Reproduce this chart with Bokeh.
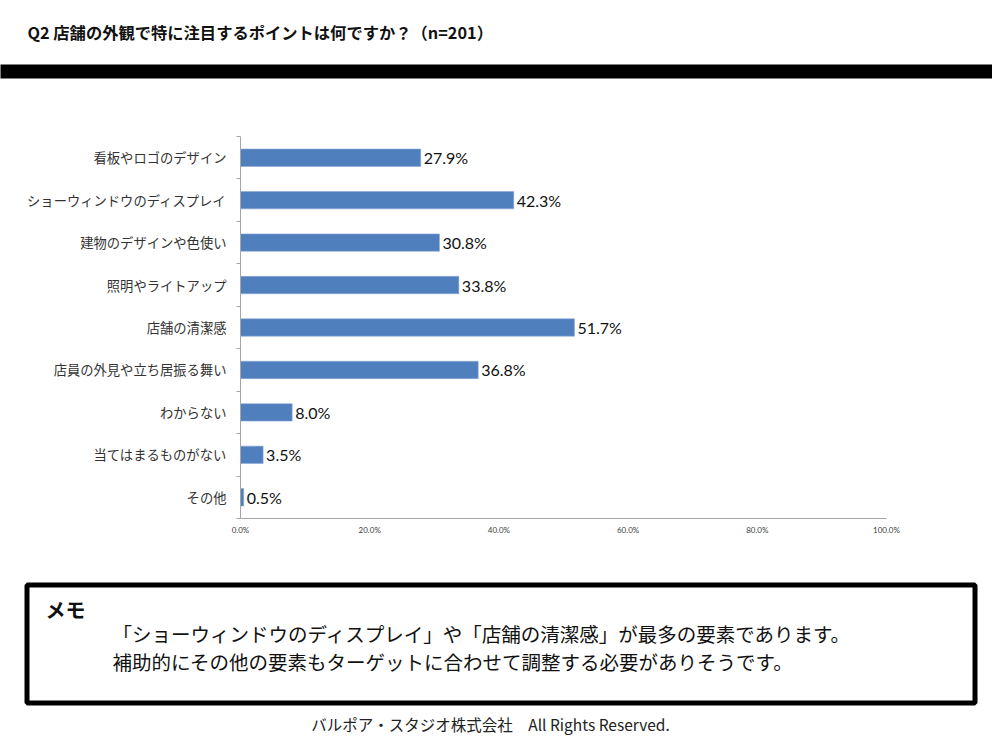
from bokeh.plotting import figure
from bokeh.models import Range1d, FixedTicker, ColumnDataSource
from bokeh.core.properties import value
from bokeh.embed import file_html
from bokeh.resources import INLINE

# ---------------- data ----------------
title_text = "Q2 店舗の外観で特に注目するポイントは何ですか？（n=201）"
categories = [
    "看板やロゴのデザイン",
    "ショーウィンドウのディスプレイ",
    "建物のデザインや色使い",
    "照明やライトアップ",
    "店舗の清潔感",
    "店員の外見や立ち居振る舞い",
    "わからない",
    "当てはまるものがない",
    "その他",
]
values = [27.9, 42.3, 30.8, 33.8, 51.7, 36.8, 8.0, 3.5, 0.5]
x_ticks = [0, 20, 40, 60, 80, 100]
x_tick_labels = ["0.0%", "20.0%", "40.0%", "60.0%", "80.0%", "100.0%"]
memo_title = "メモ"
memo_lines = [
    "「ショーウィンドウのディスプレイ」や「店舗の清潔感」が最多の要素であります。",
    "補助的にその他の要素もターゲットに合わせて調整する必要がありそうです。",
]
footer_text = "バルポア・スタジオ株式会社　All Rights Reserved."

JP = value("Noto Sans CJK JP")
W, H = 992, 736
n = len(categories)
X0, X1 = 0, 100            # value axis extent
Y0, Y1 = 0.5, n + 0.5      # category axis extent
# chart area in page pixels
FL, FR, FT, FB = 240, 886, 136, 518
kx = (X1 - X0) / (FR - FL)
ky = (Y1 - Y0) / (FB - FT)

def dx(px):   # page x pixel -> data x
    return X0 + (px - FL) * kx

def dy(py):   # page y pixel -> data y
    return Y0 + (FB - py) * ky

ypos = [n - i for i in range(n)]
src = ColumnDataSource(dict(y=ypos, v=values, cat=categories,
                            lab=[f"{v:.1f}%" for v in values]))

p = figure(width=W, height=H,
           x_range=Range1d(dx(0), dx(W)), y_range=Range1d(dy(H), dy(0)),
           output_backend="svg", toolbar_location=None)
p.min_border = 0
p.outline_line_color = None
p.grid.visible = False
p.background_fill_color = "white"
p.border_fill_color = "white"

p.hbar(y="y", right="v", left=0, height=0.41, source=src,
       fill_color="#4F7FBC", line_color="#8FAAD6", line_width=0.6)
p.text(x="v", y="y", text="lab", source=src, x_offset=3,
       text_font=value("Lato"), text_font_size="16px", text_baseline="middle",
       text_align="left", text_color="#111111")

xa = p.xaxis[0]
xa.fixed_location = Y0
xa.bounds = (X0, X1)
xa.ticker = FixedTicker(ticks=x_ticks)
xa.major_label_overrides = {t: l for t, l in zip(x_ticks, x_tick_labels)}
xa.major_tick_out = 0
xa.major_tick_in = 0
xa.minor_tick_out = 0
xa.minor_tick_in = 0
xa.axis_line_color = "#A6A6A6"
xa.major_label_text_font = "Lato"
xa.major_label_text_font_size = "8px"
xa.major_label_text_color = "#404040"
xa.major_label_standoff = 6

ya = p.yaxis[0]
ya.fixed_location = X0
ya.bounds = (Y0, Y1)
ya.ticker = FixedTicker(ticks=ypos, minor_ticks=[k + 0.5 for k in range(n + 1)])
ya.major_label_overrides = {y: c for y, c in zip(ypos, categories)}
ya.major_tick_out = 0
ya.major_tick_in = 0
ya.minor_tick_out = 4
ya.minor_tick_in = 0
ya.minor_tick_line_color = "#A6A6A6"
ya.axis_line_color = "#A6A6A6"
ya.major_label_text_font = "Noto Sans CJK JP"
ya.major_label_text_font_size = "13.3px"
ya.major_label_text_color = "#333333"
ya.major_label_standoff = 10

# header
p.quad(left=[dx(-10)], right=[dx(1010)], top=[dy(64)], bottom=[dy(78)],
       fill_color="black", line_color=None)
p.text(x=[dx(27)], y=[dy(31)], text=[title_text], text_font=JP, text_font_size="16.3px",
       text_font_style="bold", text_baseline="middle", text_align="left", text_color="#111111")

# memo box
p.quad(left=[dx(26.5)], right=[dx(974.5)], top=[dy(584.5)], bottom=[dy(702.5)],
       fill_color=None, line_color="black", line_width=5)
p.text(x=[dx(45)], y=[dy(609)], text=[memo_title], text_font=JP, text_font_size="20px",
       text_font_style="bold", text_baseline="middle", text_align="left", text_color="#111111")
p.text(x=[dx(112), dx(112)], y=[dy(633), dy(661)], text=memo_lines, text_font=JP,
       text_font_size="19.5px", text_baseline="middle", text_align="left", text_color="#111111")
p.text(x=[dx(490)], y=[dy(723)], text=[footer_text], text_font=JP, text_font_size="15.5px",
       text_baseline="middle", text_align="center", text_color="#222222")

open("out.html", "w").write(file_html(p, INLINE))
